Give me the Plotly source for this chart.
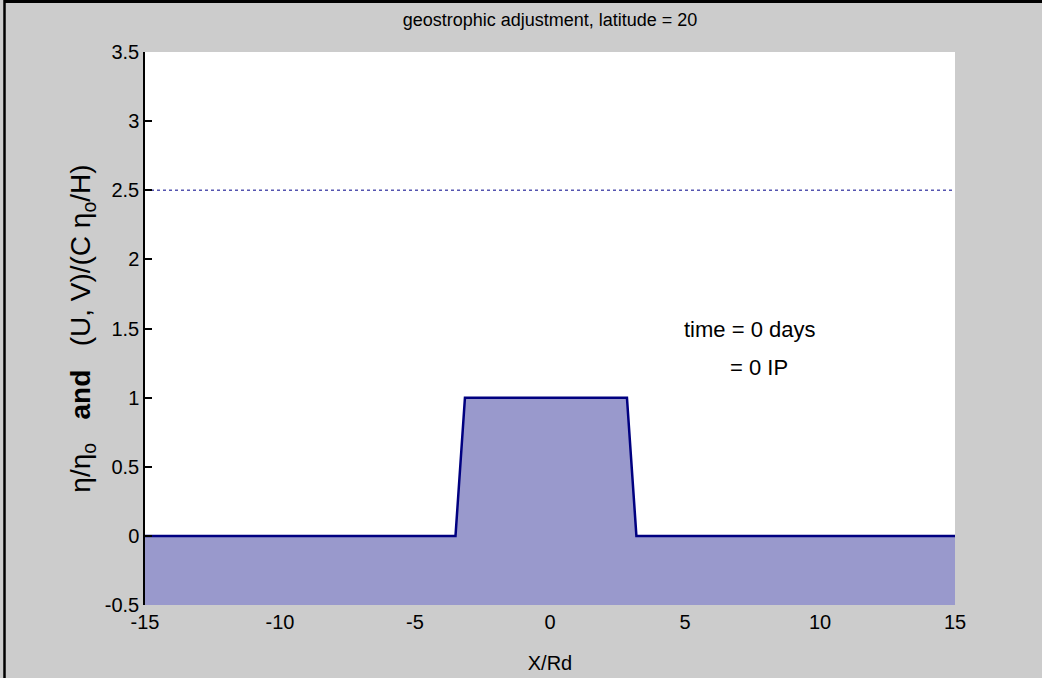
import plotly.graph_objects as go

# Surface elevation profile at t = 0 (normalised by eta_0)
x_pos = [-15, -3.5, -3.15, 2.85, 3.2, 15]
eta = [0, 0, 1, 1, 0, 0]

x_range = [-15, 15]
y_range = [-0.5, 3.5]
ref_level = 2.5

x_ticks = [-15, -10, -5, 0, 5, 10, 15]
x_labels = ["-15", "-10", "-5", "0", "5", "10", "15"]
y_ticks = [-0.5, 0, 0.5, 1, 1.5, 2, 2.5, 3, 3.5]
y_labels = ["-0.5", "0", "0.5", "1", "1.5", "2", "2.5", "3", "3.5"]

FONT = "Liberation Sans, Arial, sans-serif"

W, H = 1042, 678
L, R, T, B = 145, 87, 52, 73

fig = go.Figure()

# baseline for the fill
fig.add_trace(go.Scatter(
    x=[x_range[0], x_range[1]], y=[y_range[0], y_range[0]],
    mode="lines", line=dict(width=0, color="rgba(0,0,0,0)"),
    hoverinfo="skip", showlegend=False))

fig.add_trace(go.Scatter(
    x=x_pos, y=eta, mode="lines",
    line=dict(color="#000080", width=2.5),
    fill="tonexty", fillcolor="#9999cc",
    showlegend=False))

# dotted reference level
fig.add_trace(go.Scatter(
    x=x_range, y=[ref_level, ref_level], mode="lines",
    line=dict(color="#5555b0", width=1.3, dash="dot"),
    showlegend=False))

fig.add_annotation(x=4.9, y=1.49, xref="x", yref="y", text="time = 0 days",
                   showarrow=False, xanchor="left", yanchor="middle",
                   font=dict(family=FONT, size=22, color="black"))
fig.add_annotation(x=6.6, y=1.22, xref="x", yref="y", text="= 0 IP",
                   showarrow=False, xanchor="left", yanchor="middle",
                   font=dict(family=FONT, size=22, color="black"))

# figure frame (top and left edges)
pw, ph = W - L - R, H - T - B
def px(v):
    return (v - L) / pw
def py(v):
    return (H - B - v) / ph
fig.add_shape(type="line", xref="paper", yref="paper",
              x0=px(4), x1=px(W), y0=py(1.5), y1=py(1.5),
              line=dict(color="black", width=3))
fig.add_shape(type="line", xref="paper", yref="paper",
              x0=px(4.5), x1=px(4.5), y0=py(0), y1=py(H),
              line=dict(color="black", width=2.5))

ylab = ("η/η<sub>o</sub>&nbsp;&nbsp;&nbsp;<b>and</b>&nbsp;&nbsp;&nbsp;"
        "(U, V)/(C&nbsp;η<sub>o</sub>/H)")

fig.update_layout(
    width=W, height=H,
    margin=dict(l=L, r=R, t=T, b=B, pad=0, autoexpand=False),
    paper_bgcolor="#cccccc",
    plot_bgcolor="white",
    font=dict(family=FONT, size=20, color="black"),
    title=dict(text="geostrophic adjustment, latitude = 20",
               x=0.5, xref="paper", y=1 - 20 / H, yanchor="middle",
               font=dict(family=FONT, size=18, color="black")),
    xaxis=dict(range=x_range, tickvals=x_ticks, ticktext=x_labels,
               showgrid=False, zeroline=False, showline=False,
               ticks="", ticklen=0, ticklabelstandoff=3,
               tickfont=dict(size=20), automargin=False,
               title=dict(text="X/Rd", standoff=23, font=dict(size=20))),
    yaxis=dict(range=y_range, tickvals=y_ticks, ticktext=y_labels,
               showgrid=False, zeroline=False, showline=True,
               linecolor="black", linewidth=1.5, mirror=False,
               ticks="inside", ticklen=7, tickcolor="black", tickwidth=1.5,
               tickfont=dict(size=20), automargin=False,
               title=dict(text=ylab, standoff=6, font=dict(size=28))),
)

fig.write_html("out.html")
